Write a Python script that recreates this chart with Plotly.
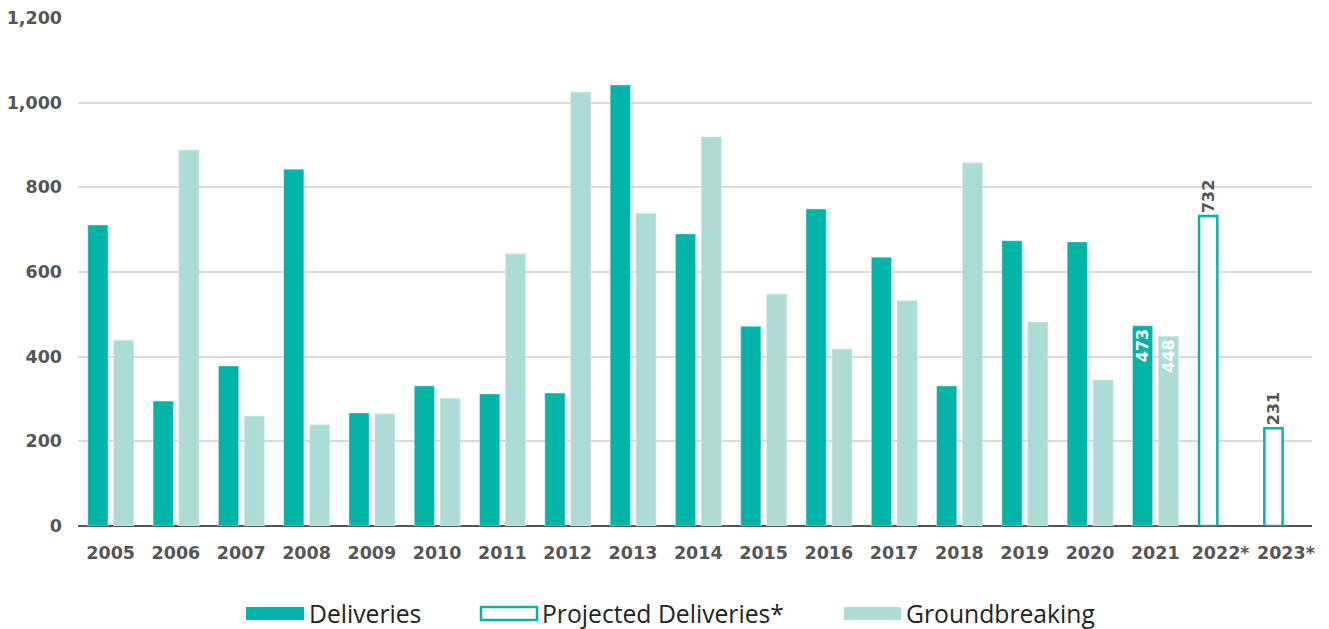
import plotly.graph_objects as go

years = ["2005","2006","2007","2008","2009","2010","2011","2012","2013","2014",
         "2015","2016","2017","2018","2019","2020","2021","2022*","2023*"]
deliveries = [711, 295, 378, 843, 267, 331, 312, 314, 1042, 690,
              472, 749, 635, 331, 674, 671, 473, None, None]
groundbreaking = [439, 888, 260, 239, 265, 302, 643, 1025, 739, 919,
                  548, 418, 532, 858, 482, 345, 448, None, None]
projected = [None]*17 + [732, 231]

labeled_years = ["2021", "2022*", "2023*"]

TEAL = "#00B5A7"
LIGHT = "#ADDCD7"
GRAY = "#555555"
TICKFONT = "DejaVu Sans"

def labels(vals):
    return [f"{v:,}" if (v is not None and y in labeled_years) else "" for y, v in zip(years, vals)]

fig = go.Figure()
fig.add_trace(go.Bar(x=years, y=deliveries, name="Deliveries", marker_color=TEAL,
                     offset=-0.35, width=0.31, text=labels(deliveries),
                     textposition="inside", insidetextanchor="end", textangle=-90,
                     textfont=dict(family=TICKFONT, size=16, color="white", weight="bold"),
                     constraintext="none", cliponaxis=False))
fig.add_trace(go.Bar(x=years, y=groundbreaking, name="Groundbreaking", marker_color=LIGHT,
                     offset=0.045, width=0.31, text=labels(groundbreaking),
                     textposition="inside", insidetextanchor="end", textangle=-90,
                     textfont=dict(family=TICKFONT, size=16, color="white", weight="bold"),
                     constraintext="none", cliponaxis=False))
fig.add_trace(go.Bar(x=years, y=projected, name="Projected Deliveries*",
                     marker=dict(color="white", line=dict(color=TEAL, width=2.5)),
                     offset=-0.33, width=0.28, text=labels(projected),
                     textposition="outside", textangle=-90,
                     textfont=dict(family=TICKFONT, size=16, color=GRAY, weight="bold"),
                     constraintext="none", cliponaxis=False))

fig.update_layout(
    width=1329, height=629,
    margin=dict(l=78, r=17, t=18, b=103),
    plot_bgcolor="white", paper_bgcolor="white",
    barmode="overlay", showlegend=False,
)
fig.update_xaxes(range=[-0.5, 18.4], showgrid=False, ticks="", ticklabelstandoff=14,
                 tickfont=dict(family=TICKFONT, size=17.5, color=GRAY, weight="bold"),
                 showline=False, zeroline=False, automargin=False)
fig.update_yaxes(range=[0, 1200], tickvals=[0, 200, 400, 600, 800, 1000, 1200],
                 ticktext=["0", "200", "400", "600", "800", "1,000", "1,200"],
                 showgrid=True, gridcolor="#D9D9D9", gridwidth=1.5,
                 zeroline=True, zerolinecolor=GRAY, zerolinewidth=2,
                 ticks="", ticklabelstandoff=15, automargin=False,
                 tickfont=dict(family=TICKFONT, size=17.5, color=GRAY, weight="bold"))

# custom legend
def px_x(p):
    return (p - 78) / 1234
def px_y(p):
    return (526 - p) / 508

legend_items = [
    ("Deliveries", 246, 304, dict(fillcolor=TEAL, line=dict(width=0))),
    ("Projected Deliveries*", 481, 537, dict(fillcolor="white", line=dict(color=TEAL, width=2.5))),
    ("Groundbreaking", 844, 901, dict(fillcolor=LIGHT, line=dict(width=0))),
]
for name, x0, x1, style in legend_items:
    fig.add_shape(type="rect", xref="paper", yref="paper",
                  x0=px_x(x0), x1=px_x(x1), y0=px_y(620), y1=px_y(607), **style)
    fig.add_annotation(xref="paper", yref="paper", x=px_x(x1 + 3), y=px_y(613),
                       text=name, showarrow=False, xanchor="left", yanchor="middle",
                       font=dict(family="Open Sans", size=24.7, color="#222222"))

fig.write_html("out.html")
